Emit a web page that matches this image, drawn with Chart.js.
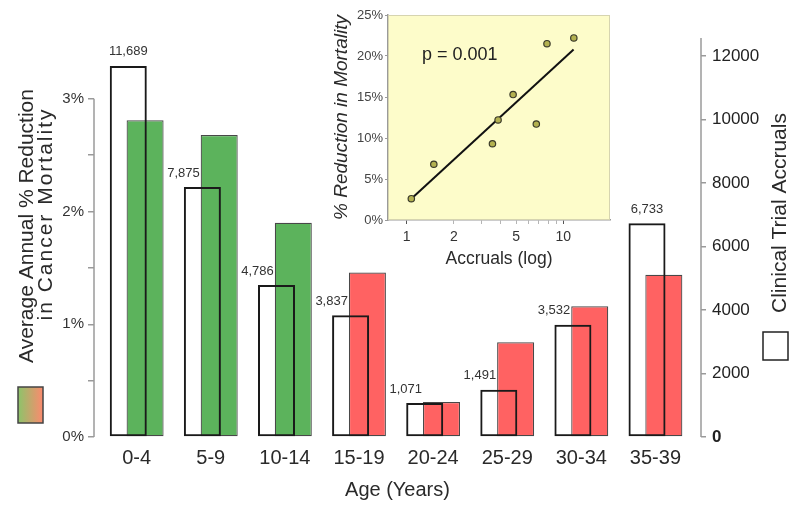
<!DOCTYPE html>
<html>
<head>
<meta charset="utf-8">
<script src="https://cdn.jsdelivr.net/npm/chart.js@4.4.1/dist/chart.umd.min.js"></script>
<style>
  html, body { margin: 0; padding: 0; background: #fff; }
  #wrap { position: relative; width: 800px; height: 516px; }
  #main { position: absolute; left: 0; top: 0; }
  #inset { position: absolute; left: 325px; top: 0; }
</style>
</head>
<body>
<div id="wrap">
  <canvas id="main" width="800" height="516"></canvas>
  <canvas id="inset" width="300" height="275"></canvas>
</div>
<script>
// main chart data
const categories = ['0-4', '5-9', '10-14', '15-19', '20-24', '25-29', '30-34', '35-39'];
const mortalityReduction = [2.81, 2.68, 1.90, 1.46, 0.31, 0.84, 1.16, 1.44];
const trialAccruals = [11689, 7875, 4786, 3837, 1071, 1491, 3532, 6733];
const leftTickValues = [0, 0.5, 1, 1.5, 2, 2.5, 3];
const rightTickValues = [0, 2000, 4000, 6000, 8000, 10000, 12000];

// inset data (x = accruals in thousands, same order as categories)
const periodReduction = [22.2, 21.5, 15.3, 12.2, 2.6, 6.8, 9.3, 11.7];
const trendAccruals = [1.05, 11.65];
const trendReduction = [2.44, 20.8];
const insetXTickValues = [1, 2, 3, 4, 5, 6, 7, 8, 9, 10];
const insetXLabelled = [1, 2, 5, 10];
const insetYTickValues = [0, 5, 10, 15, 20, 25];

const FONT = '"Liberation Sans", Arial, sans-serif';
const GREEN = '#5cb35c';
const RED = '#ff6262';
const TEXT = '#2a2a2a';
const AXIS = '#9a9a9a';

// white-bar value labels, axis lines, titles and key swatches
const decorations = {
    id: 'decorations',
    afterDatasetsDraw(chart) {
        const { ctx, scales } = chart;
        const y = scales.y;
        const y2 = scales.y2;
        const area = chart.chartArea;

        ctx.save();
        ctx.strokeStyle = AXIS;
        ctx.lineWidth = 1.5;
        ctx.beginPath();
        ctx.moveTo(area.left, y.getPixelForValue(0));
        ctx.lineTo(area.left, y.getPixelForValue(3));
        ctx.moveTo(area.right, y2.getPixelForValue(0));
        ctx.lineTo(area.right, area.top);
        ctx.stroke();

        const white = chart.getDatasetMeta(0).data;
        const colored = chart.getDatasetMeta(1).data;
        ctx.font = '13px ' + FONT;
        ctx.fillStyle = '#333';
        ctx.textBaseline = 'middle';
        white.forEach((bar, i) => {
            const other = colored[i];
            const text = trialAccruals[i].toLocaleString('en-US');
            if (bar.y <= other.y) {
                ctx.textAlign = 'center';
                ctx.fillText(text, bar.x, bar.y - 14);
            } else {
                ctx.textAlign = 'right';
                ctx.fillText(text, other.x - other.width / 2 - 1, bar.y - 14);
            }
        });
        ctx.restore();
    },
    afterDraw(chart) {
        const { ctx } = chart;
        ctx.save();
        ctx.fillStyle = TEXT;
        ctx.font = '21px ' + FONT;
        ctx.textAlign = 'center';
        ctx.textBaseline = 'alphabetic';

        ctx.save();
        ctx.translate(33, 226);
        ctx.rotate(-Math.PI / 2);
        ctx.fillText('Average Annual % Reduction', 0, 0);
        ctx.restore();

        // second line is set looser in the original
        ctx.save();
        ctx.translate(52, 214);
        ctx.rotate(-Math.PI / 2);
        ctx.letterSpacing = '2px';
        ctx.fillText('in Cancer Mortality', 0, 0);
        ctx.letterSpacing = '0px';
        ctx.restore();

        ctx.save();
        ctx.translate(786, 213);
        ctx.rotate(-Math.PI / 2);
        ctx.fillText('Clinical Trial Accruals', 0, 0);
        ctx.restore();

        const grad = ctx.createLinearGradient(18, 0, 43, 0);
        grad.addColorStop(0, '#8cc46a');
        grad.addColorStop(1, '#fc8a6e');
        ctx.fillStyle = grad;
        ctx.fillRect(18, 387, 25, 36);
        ctx.strokeStyle = '#444';
        ctx.lineWidth = 1.5;
        ctx.strokeRect(18, 387, 25, 36);

        ctx.fillStyle = '#fff';
        ctx.fillRect(763, 332, 25, 28);
        ctx.strokeStyle = '#222';
        ctx.strokeRect(763, 332, 25, 28);
        ctx.restore();
    },
};

new Chart(document.getElementById('main'), {
    type: 'bar',
    data: {
        datasets: [
            {
                label: 'Clinical Trial Accruals',
                data: categories.map((c, i) => ({ x: i, y: trialAccruals[i] })),
                yAxisID: 'y2',
                order: 0,
                backgroundColor: 'rgba(255,255,255,0)',
                borderColor: '#1a1a1a',
                borderWidth: 2,
                borderSkipped: false,
                categoryPercentage: 0.454,
                barPercentage: 2.2,
            },
            {
                label: 'Average Annual % Reduction in Cancer Mortality',
                data: categories.map((c, i) => ({ x: i, y: mortalityReduction[i] })),
                yAxisID: 'y',
                order: 1,
                backgroundColor: categories.map((c, i) => (i < 3 ? GREEN : RED)),
                borderColor: 'rgba(40,40,40,0.85)',
                borderWidth: 1.2,
                borderSkipped: false,
                categoryPercentage: 0.454,
                barPercentage: 2.2,
            },
        ],
    },
    options: {
        responsive: false,
        animation: false,
        layout: { padding: { top: 38, left: 0, right: 0, bottom: 0 } },
        plugins: {
            legend: { display: false },
            tooltip: { enabled: false },
        },
        scales: {
            x: {
                type: 'linear',
                min: -0.576,
                max: 7.615,
                offset: false,
                afterBuildTicks: (s) => { s.ticks = categories.map((c, i) => ({ value: i })); },
                afterFit: (s) => { s.height = 79; },
                grid: { display: false, drawTicks: false, offset: false },
                border: { display: false },
                ticks: {
                    autoSkip: false,
                    maxRotation: 0,
                    padding: 9,
                    color: TEXT,
                    font: { family: FONT, size: 20 },
                    callback: (v) => categories[v],
                },
                title: {
                    display: true,
                    text: 'Age (Years)',
                    color: TEXT,
                    font: { family: FONT, size: 20 },
                    padding: { top: 0, bottom: 14 },
                },
            },
            y: {
                position: 'left',
                min: 0,
                max: 3.54,
                stacked: false,
                afterBuildTicks: (s) => { s.ticks = leftTickValues.map((v) => ({ value: v })); },
                afterFit: (s) => { s.width = 94; },
                grid: { drawOnChartArea: false, tickLength: 6, color: AXIS, lineWidth: 1.5 },
                border: { display: false },
                ticks: {
                    padding: 4,
                    color: '#333',
                    font: { family: FONT, size: 15 },
                    callback: (v) => (Number.isInteger(v) ? v + '%' : ''),
                },
            },
            y2: {
                position: 'right',
                min: 0,
                max: 12567,
                stacked: false,
                afterBuildTicks: (s) => { s.ticks = rightTickValues.map((v) => ({ value: v })); },
                afterFit: (s) => { s.width = 99; },
                grid: { drawOnChartArea: false, tickLength: 5, color: AXIS, lineWidth: 1.5 },
                border: { display: false },
                ticks: {
                    padding: 6,
                    color: '#222',
                    font: (ctx) => ({ family: FONT, size: 17, weight: ctx.tick && ctx.tick.value === 0 ? 'bold' : 'normal' }),
                    callback: (v) => String(v),
                },
            },
        },
    },
    plugins: [decorations],
});

// pale yellow plot panel behind the inset scatter
const insetPanel = {
    id: 'insetPanel',
    beforeDatasetsDraw(chart) {
        const { ctx, chartArea: a } = chart;
        ctx.save();
        ctx.fillStyle = '#fdfcca';
        ctx.fillRect(a.left, a.top, a.right - a.left, a.bottom - a.top);
        ctx.strokeStyle = '#d6d4b0';
        ctx.lineWidth = 1;
        ctx.strokeRect(a.left + 0.5, a.top + 0.5, a.right - a.left - 1, a.bottom - a.top - 1);
        ctx.font = '18px ' + FONT;
        ctx.fillStyle = '#222';
        ctx.textAlign = 'left';
        ctx.textBaseline = 'alphabetic';
        ctx.fillText('p = 0.001', 97, 60);
        ctx.restore();
    },
};

new Chart(document.getElementById('inset'), {
    type: 'scatter',
    data: {
        datasets: [
            {
                type: 'line',
                data: trendAccruals.map((x, i) => ({ x, y: trendReduction[i] })),
                borderColor: '#111',
                borderWidth: 2,
                pointRadius: 0,
                order: 1,
            },
            {
                data: trialAccruals.map((v, i) => ({ x: v / 1000, y: periodReduction[i] })),
                pointRadius: 3.2,
                backgroundColor: '#b3b150',
                borderColor: '#3a3a2a',
                borderWidth: 1.2,
                order: 0,
            },
        ],
    },
    options: {
        responsive: false,
        animation: false,
        layout: { padding: { top: 15, right: 15, left: 0, bottom: 0 } },
        plugins: {
            legend: { display: false },
            tooltip: { enabled: false },
        },
        scales: {
            x: {
                type: 'logarithmic',
                min: 0.76,
                max: 19.9,
                afterBuildTicks: (s) => { s.ticks = insetXTickValues.map((v) => ({ value: v })); },
                afterFit: (s) => { s.height = 55; },
                grid: {
                    drawOnChartArea: false,
                    tickLength: 4,
                    color: (ctx) => (ctx.tick && (ctx.tick.value === 1 || ctx.tick.value === 10) ? '#555' : '#b5b5b5'),
                },
                border: { color: AXIS, width: 1.5 },
                ticks: {
                    autoSkip: false,
                    maxRotation: 0,
                    padding: 5,
                    color: '#333',
                    font: { family: FONT, size: 14 },
                    callback: (v) => (insetXLabelled.includes(v) ? String(v) : ''),
                },
                title: {
                    display: true,
                    text: 'Accruals (log)',
                    color: TEXT,
                    font: { family: FONT, size: 17.5 },
                    padding: { top: 0, bottom: 5 },
                },
            },
            y: {
                min: 0,
                max: 25,
                afterBuildTicks: (s) => { s.ticks = insetYTickValues.map((v) => ({ value: v })); },
                afterFit: (s) => { s.width = 63; },
                grid: { drawOnChartArea: false, tickLength: 3, color: AXIS },
                border: { color: AXIS, width: 1.5 },
                ticks: {
                    padding: 2,
                    color: '#444',
                    font: { family: FONT, size: 13 },
                    callback: (v) => v + '%',
                },
                title: {
                    display: true,
                    text: '% Reduction in Mortality',
                    color: TEXT,
                    font: { family: FONT, size: 19, style: 'italic' },
                    padding: { top: 5, bottom: 0 },
                },
            },
        },
    },
    plugins: [insetPanel],
});
</script>
</body>
</html>
